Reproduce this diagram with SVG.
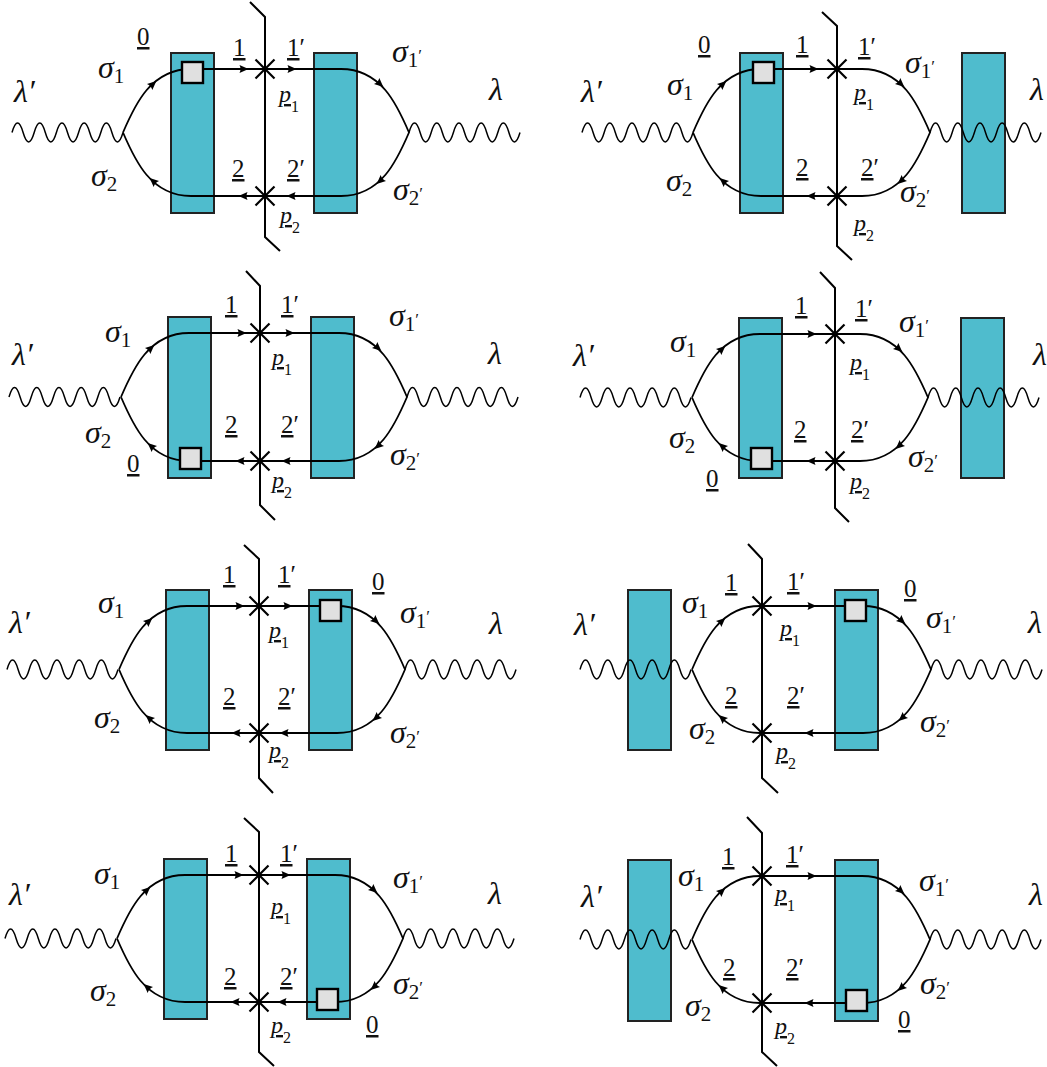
<svg xmlns="http://www.w3.org/2000/svg" width="1047" height="1067" viewBox="0 0 1047 1067">
<style>
.bg{fill:#fff}
.blob rect{fill:#4fbccd;stroke:#222;stroke-width:2}
.sq rect{fill:#e0e0e0;stroke:#000;stroke-width:2.4}
.ln{fill:none;stroke:#000;stroke-width:1.8}
.cut{fill:none;stroke:#000;stroke-width:2}
.x{fill:none;stroke:#000;stroke-width:2.2}
.w{fill:none;stroke:#000;stroke-width:1.5}
text{font-family:"Liberation Serif","Times New Roman",serif;fill:#111}
.m{font-style:italic;font-size:32px}
.s{font-style:normal;font-size:21px}
.t{font-style:normal;font-size:17px}
.d{font-size:25px}
.u{text-decoration:underline;text-decoration-skip-ink:none;text-underline-offset:3px;text-decoration-thickness:1px}
.p{font-style:italic;font-size:24px}
.ps{font-style:normal;font-size:16px}
</style>
<defs>
<path id="wave" class="w" d="M0,0c3.7,-12.6 7.4,-12.6 11.1,0s7.4,12.6 11.1,0s7.4,-12.6 11.1,0s7.4,12.6 11.1,0s7.4,-12.6 11.1,0s7.4,12.6 11.1,0s7.4,-12.6 11.1,0s7.4,12.6 11.1,0s7.4,-12.6 11.1,0s7.4,12.6 11.1,0"/>
<path id="ah" d="M4.5,0L-4.5,-4Q-2.5,0 -4.5,4Z" fill="#000"/>
<path id="cross" class="x" d="M-9.5,-9.5L9.5,9.5M-9.5,9.5L9.5,-9.5"/>
</defs>
<rect class="bg" width="1047" height="1067"/>

<g id="blobs" class="blob">
<g id="p1-blob-a"><rect x="171" y="53" width="43" height="160"/></g>
<g id="p1-blob-b"><rect x="314" y="53" width="43" height="160"/></g>
<g id="p2-blob-a"><rect x="740" y="53" width="43" height="160"/></g>
<g id="p2-blob-b"><rect x="962" y="53" width="43" height="160"/></g>
<g id="p3-blob-a"><rect x="168" y="317" width="43" height="161"/></g>
<g id="p3-blob-b"><rect x="311" y="317" width="43" height="161"/></g>
<g id="p4-blob-a"><rect x="739" y="318" width="43" height="160"/></g>
<g id="p4-blob-b"><rect x="961" y="318" width="43" height="160"/></g>
<g id="p5-blob-a"><rect x="166" y="590" width="43" height="160"/></g>
<g id="p5-blob-b"><rect x="309" y="590" width="43" height="160"/></g>
<g id="p6-blob-a"><rect x="628" y="590" width="43" height="160"/></g>
<g id="p6-blob-b"><rect x="835" y="590" width="43" height="160"/></g>
<g id="p7-blob-a"><rect x="164" y="859" width="43" height="160"/></g>
<g id="p7-blob-b"><rect x="307" y="859" width="43" height="160"/></g>
<g id="p8-blob-a"><rect x="628" y="860" width="43" height="161"/></g>
<g id="p8-blob-b"><rect x="835" y="860" width="43" height="161"/></g>
</g>

<g id="connectors">
<!-- panel 1 -->
<use href="#wave" x="12" y="132.5"/><use href="#wave" x="409" y="132.5"/>
<path class="ln" d="M123,132.5C135,104.5 151,69 191,69L341,69C381,69 397,104.5 409,132.5C397,160.5 381,196 341,196L191,196C151,196 135,160.5 123,132.5"/>
<path class="cut" d="M250,2L265,17L265,237L280,251"/>
<use href="#cross" x="265" y="69"/><use href="#cross" x="265" y="196"/>
<use href="#ah" transform="translate(153,84) rotate(-42)"/><use href="#ah" transform="translate(244,69)"/><use href="#ah" transform="translate(292,69)"/><use href="#ah" transform="translate(380,84) rotate(42)"/><use href="#ah" transform="translate(380,181) rotate(138)"/><use href="#ah" transform="translate(291,196) rotate(180)"/><use href="#ah" transform="translate(243,196) rotate(180)"/><use href="#ah" transform="translate(153,181) rotate(-138)"/>
<!-- panel 2 -->
<use href="#wave" x="582" y="132.5"/><use href="#wave" x="930" y="132.5"/>
<path class="ln" d="M693,132.5C705,104.5 721,69 761,69L862,69C902,69 918,104.5 930,132.5C918,160.5 902,196 862,196L761,196C721,196 705,160.5 693,132.5"/>
<path class="cut" d="M822,12L837,26L837,246L852,260"/>
<use href="#cross" x="837" y="69"/><use href="#cross" x="837" y="196"/>
<use href="#ah" transform="translate(723,84) rotate(-42)"/><use href="#ah" transform="translate(814,69)"/><use href="#ah" transform="translate(901,84) rotate(42)"/><use href="#ah" transform="translate(901,181) rotate(138)"/><use href="#ah" transform="translate(811,196) rotate(180)"/><use href="#ah" transform="translate(723,181) rotate(-138)"/>
<!-- panel 3 -->
<use href="#wave" x="9" y="397"/><use href="#wave" x="407" y="397"/>
<path class="ln" d="M121,397C133,369 149,333 189,333L339,333C379,333 395,369 407,397C395,425 379,461 339,461L189,461C149,461 133,425 121,397"/>
<path class="cut" d="M246,271L260,286L260,505L275,520"/>
<use href="#cross" x="260" y="333"/><use href="#cross" x="260" y="461"/>
<use href="#ah" transform="translate(151,348) rotate(-42)"/><use href="#ah" transform="translate(242,333)"/><use href="#ah" transform="translate(290,333)"/><use href="#ah" transform="translate(378,348) rotate(42)"/><use href="#ah" transform="translate(378,446) rotate(138)"/><use href="#ah" transform="translate(286,461) rotate(180)"/><use href="#ah" transform="translate(240,461) rotate(180)"/><use href="#ah" transform="translate(151,446) rotate(-138)"/>
<!-- panel 4 -->
<use href="#wave" x="580" y="397.5"/><use href="#wave" x="928" y="397.5"/>
<path class="ln" d="M692,397.5C704,369.5 720,334 760,334L860,334C900,334 916,369.5 928,397.5C916,425.5 900,461 860,461L760,461C720,461 704,425.5 692,397.5"/>
<path class="cut" d="M820,272L835,288L835,508L849,522"/>
<use href="#cross" x="835" y="334"/><use href="#cross" x="835" y="461"/>
<use href="#ah" transform="translate(722,349) rotate(-42)"/><use href="#ah" transform="translate(812,334)"/><use href="#ah" transform="translate(899,349) rotate(42)"/><use href="#ah" transform="translate(899,446) rotate(138)"/><use href="#ah" transform="translate(811,461) rotate(180)"/><use href="#ah" transform="translate(722,446) rotate(-138)"/>
<!-- panel 5 -->
<use href="#wave" x="7" y="669.5"/><use href="#wave" x="405" y="669.5"/>
<path class="ln" d="M119,669.5C131,641.5 147,606 187,606L337,606C377,606 393,641.5 405,669.5C393,697.5 377,733 337,733L187,733C147,733 131,697.5 119,669.5"/>
<path class="cut" d="M244,545L259,559L259,778L273,793"/>
<use href="#cross" x="259" y="606"/><use href="#cross" x="259" y="733"/>
<use href="#ah" transform="translate(149,621) rotate(-42)"/><use href="#ah" transform="translate(240,606)"/><use href="#ah" transform="translate(288,606)"/><use href="#ah" transform="translate(376,621) rotate(42)"/><use href="#ah" transform="translate(376,718) rotate(138)"/><use href="#ah" transform="translate(284,733) rotate(180)"/><use href="#ah" transform="translate(236,733) rotate(180)"/><use href="#ah" transform="translate(149,718) rotate(-138)"/>
<!-- panel 6 -->
<use href="#wave" x="580" y="669.5"/><use href="#wave" x="931" y="669.5"/>
<path class="ln" d="M692,669.5C704,641.5 720,606 760,606L863,606C903,606 919,641.5 931,669.5C919,697.5 903,733 863,733L760,733C720,733 704,697.5 692,669.5"/>
<path class="cut" d="M748,544L762,559L762,778L778,793"/>
<use href="#cross" x="762" y="606"/><use href="#cross" x="762" y="733"/>
<use href="#ah" transform="translate(722,621) rotate(-42)"/><use href="#ah" transform="translate(812,606)"/><use href="#ah" transform="translate(902,621) rotate(42)"/><use href="#ah" transform="translate(902,718) rotate(138)"/><use href="#ah" transform="translate(809,733) rotate(180)"/><use href="#ah" transform="translate(722,718) rotate(-138)"/>
<!-- panel 7 -->
<use href="#wave" x="5" y="938.5"/><use href="#wave" x="403" y="938.5"/>
<path class="ln" d="M117,938.5C129,910.5 145,875 185,875L335,875C375,875 391,910.5 403,938.5C391,966.5 375,1002 335,1002L185,1002C145,1002 129,966.5 117,938.5"/>
<path class="cut" d="M244,818L259,832L259,1052L274,1066"/>
<use href="#cross" x="259" y="875"/><use href="#cross" x="259" y="1002"/>
<use href="#ah" transform="translate(147,890) rotate(-42)"/><use href="#ah" transform="translate(239,875)"/><use href="#ah" transform="translate(286,875)"/><use href="#ah" transform="translate(374,890) rotate(42)"/><use href="#ah" transform="translate(374,987) rotate(138)"/><use href="#ah" transform="translate(282,1002) rotate(180)"/><use href="#ah" transform="translate(235,1002) rotate(180)"/><use href="#ah" transform="translate(147,987) rotate(-138)"/>
<!-- panel 8 -->
<use href="#wave" x="580" y="939.5"/><use href="#wave" x="930" y="939.5"/>
<path class="ln" d="M692,939.5C704,911.5 720,876 760,876L862,876C902,876 918,911.5 930,939.5C918,967.5 902,1003 862,1003L760,1003C720,1003 704,967.5 692,939.5"/>
<path class="cut" d="M747,817L762,833L762,1052L777,1066"/>
<use href="#cross" x="762" y="876"/><use href="#cross" x="762" y="1003"/>
<use href="#ah" transform="translate(722,891) rotate(-42)"/><use href="#ah" transform="translate(812,876)"/><use href="#ah" transform="translate(901,891) rotate(42)"/><use href="#ah" transform="translate(901,988) rotate(138)"/><use href="#ah" transform="translate(809,1003) rotate(180)"/><use href="#ah" transform="translate(722,988) rotate(-138)"/>
</g>

<g id="insertions" class="sq">
<g id="p1-insert"><rect x="182" y="62" width="21" height="21"/></g>
<g id="p2-insert"><rect x="753" y="62" width="21" height="21"/></g>
<g id="p3-insert"><rect x="180" y="448" width="21" height="21"/></g>
<g id="p4-insert"><rect x="751" y="448" width="21" height="21"/></g>
<g id="p5-insert"><rect x="320" y="600" width="21" height="21"/></g>
<g id="p6-insert"><rect x="845" y="600" width="21" height="21"/></g>
<g id="p7-insert"><rect x="317" y="989" width="21" height="21"/></g>
<g id="p8-insert"><rect x="846" y="990" width="21" height="21"/></g>
</g>

<g id="labels">
<g id="p1-labels">
<text class="m" x="14" y="102">λ′</text>
<text class="m" x="98" y="78">σ<tspan class="s" dy="5">1</tspan></text>
<text class="d" x="137" y="45"><tspan class="u">0</tspan></text>
<text class="d" x="233" y="56"><tspan class="u">1</tspan></text>
<text class="d" x="287" y="56"><tspan class="u">1</tspan>′</text>
<text class="p" x="279" y="102"><tspan class="u">p</tspan><tspan class="ps" dy="10">1</tspan></text>
<text class="m" x="392" y="62">σ<tspan class="s" dy="5">1</tspan><tspan class="t" dy="-6">′</tspan></text>
<text class="m" x="489" y="100">λ</text>
<text class="m" x="91" y="186">σ<tspan class="s" dy="5">2</tspan></text>
<text class="d" x="232" y="177"><tspan class="u">2</tspan></text>
<text class="d" x="287" y="177"><tspan class="u">2</tspan>′</text>
<text class="p" x="280" y="223"><tspan class="u">p</tspan><tspan class="ps" dy="10">2</tspan></text>
<text class="m" x="393" y="200">σ<tspan class="s" dy="5">2</tspan><tspan class="t" dy="-6">′</tspan></text>
</g>
<g id="p2-labels">
<text class="m" x="581" y="102">λ′</text>
<text class="m" x="667" y="95">σ<tspan class="s" dy="5">1</tspan></text>
<text class="d" x="698" y="53"><tspan class="u">0</tspan></text>
<text class="d" x="796" y="53"><tspan class="u">1</tspan></text>
<text class="d" x="858" y="55"><tspan class="u">1</tspan>′</text>
<text class="p" x="854" y="100"><tspan class="u">p</tspan><tspan class="ps" dy="10">1</tspan></text>
<text class="m" x="905" y="73">σ<tspan class="s" dy="5">1</tspan><tspan class="t" dy="-6">′</tspan></text>
<text class="m" x="1030" y="100">λ</text>
<text class="m" x="666" y="191">σ<tspan class="s" dy="5">2</tspan></text>
<text class="d" x="796" y="176"><tspan class="u">2</tspan></text>
<text class="d" x="861" y="176"><tspan class="u">2</tspan>′</text>
<text class="p" x="854" y="231"><tspan class="u">p</tspan><tspan class="ps" dy="10">2</tspan></text>
<text class="m" x="900" y="202">σ<tspan class="s" dy="5">2</tspan><tspan class="t" dy="-6">′</tspan></text>
</g>
<g id="p3-labels">
<text class="m" x="12" y="365">λ′</text>
<text class="m" x="105" y="342">σ<tspan class="s" dy="5">1</tspan></text>
<text class="d" x="225" y="313"><tspan class="u">1</tspan></text>
<text class="d" x="281" y="313"><tspan class="u">1</tspan>′</text>
<text class="p" x="272" y="365"><tspan class="u">p</tspan><tspan class="ps" dy="10">1</tspan></text>
<text class="m" x="389" y="326">σ<tspan class="s" dy="5">1</tspan><tspan class="t" dy="-6">′</tspan></text>
<text class="m" x="488" y="364">λ</text>
<text class="m" x="85" y="443">σ<tspan class="s" dy="5">2</tspan></text>
<text class="d" x="225" y="433"><tspan class="u">2</tspan></text>
<text class="d" x="281" y="433"><tspan class="u">2</tspan>′</text>
<text class="d" x="127" y="472"><tspan class="u">0</tspan></text>
<text class="p" x="272" y="488"><tspan class="u">p</tspan><tspan class="ps" dy="10">2</tspan></text>
<text class="m" x="390" y="465">σ<tspan class="s" dy="5">2</tspan><tspan class="t" dy="-6">′</tspan></text>
</g>
<g id="p4-labels">
<text class="m" x="573" y="366">λ′</text>
<text class="m" x="670" y="352">σ<tspan class="s" dy="5">1</tspan></text>
<text class="d" x="795" y="314"><tspan class="u">1</tspan></text>
<text class="d" x="855" y="317"><tspan class="u">1</tspan>′</text>
<text class="p" x="850" y="370"><tspan class="u">p</tspan><tspan class="ps" dy="10">1</tspan></text>
<text class="m" x="899" y="332">σ<tspan class="s" dy="5">1</tspan><tspan class="t" dy="-6">′</tspan></text>
<text class="m" x="1033" y="365">λ</text>
<text class="m" x="669" y="448">σ<tspan class="s" dy="5">2</tspan></text>
<text class="d" x="794" y="438"><tspan class="u">2</tspan></text>
<text class="d" x="851" y="438"><tspan class="u">2</tspan>′</text>
<text class="d" x="706" y="487"><tspan class="u">0</tspan></text>
<text class="p" x="850" y="489"><tspan class="u">p</tspan><tspan class="ps" dy="10">2</tspan></text>
<text class="m" x="908" y="467">σ<tspan class="s" dy="5">2</tspan><tspan class="t" dy="-6">′</tspan></text>
</g>
<g id="p5-labels">
<text class="m" x="9" y="633">λ′</text>
<text class="m" x="98" y="613">σ<tspan class="s" dy="5">1</tspan></text>
<text class="d" x="223" y="583"><tspan class="u">1</tspan></text>
<text class="d" x="278" y="583"><tspan class="u">1</tspan>′</text>
<text class="d" x="372" y="590"><tspan class="u">0</tspan></text>
<text class="p" x="269" y="638"><tspan class="u">p</tspan><tspan class="ps" dy="10">1</tspan></text>
<text class="m" x="400" y="623">σ<tspan class="s" dy="5">1</tspan><tspan class="t" dy="-6">′</tspan></text>
<text class="m" x="489" y="634">λ</text>
<text class="m" x="94" y="728">σ<tspan class="s" dy="5">2</tspan></text>
<text class="d" x="223" y="705"><tspan class="u">2</tspan></text>
<text class="d" x="278" y="705"><tspan class="u">2</tspan>′</text>
<text class="p" x="269" y="758"><tspan class="u">p</tspan><tspan class="ps" dy="10">2</tspan></text>
<text class="m" x="390" y="743">σ<tspan class="s" dy="5">2</tspan><tspan class="t" dy="-6">′</tspan></text>
</g>
<g id="p6-labels">
<text class="m" x="574" y="635">λ′</text>
<text class="m" x="682" y="613">σ<tspan class="s" dy="5">1</tspan></text>
<text class="d" x="725" y="591"><tspan class="u">1</tspan></text>
<text class="d" x="787" y="590"><tspan class="u">1</tspan>′</text>
<text class="d" x="904" y="597"><tspan class="u">0</tspan></text>
<text class="p" x="780" y="636"><tspan class="u">p</tspan><tspan class="ps" dy="10">1</tspan></text>
<text class="m" x="926" y="628">σ<tspan class="s" dy="5">1</tspan><tspan class="t" dy="-6">′</tspan></text>
<text class="m" x="1028" y="633">λ</text>
<text class="m" x="689" y="739">σ<tspan class="s" dy="5">2</tspan></text>
<text class="d" x="725" y="704"><tspan class="u">2</tspan></text>
<text class="d" x="787" y="704"><tspan class="u">2</tspan>′</text>
<text class="p" x="776" y="759"><tspan class="u">p</tspan><tspan class="ps" dy="10">2</tspan></text>
<text class="m" x="920" y="732">σ<tspan class="s" dy="5">2</tspan><tspan class="t" dy="-6">′</tspan></text>
</g>
<g id="p7-labels">
<text class="m" x="9" y="905">λ′</text>
<text class="m" x="94" y="884">σ<tspan class="s" dy="5">1</tspan></text>
<text class="d" x="225" y="862"><tspan class="u">1</tspan></text>
<text class="d" x="280" y="862"><tspan class="u">1</tspan>′</text>
<text class="p" x="271" y="914"><tspan class="u">p</tspan><tspan class="ps" dy="10">1</tspan></text>
<text class="m" x="393" y="888">σ<tspan class="s" dy="5">1</tspan><tspan class="t" dy="-6">′</tspan></text>
<text class="m" x="488" y="904">λ</text>
<text class="m" x="90" y="1001">σ<tspan class="s" dy="5">2</tspan></text>
<text class="d" x="224" y="985"><tspan class="u">2</tspan></text>
<text class="d" x="280" y="985"><tspan class="u">2</tspan>′</text>
<text class="p" x="271" y="1033"><tspan class="u">p</tspan><tspan class="ps" dy="10">2</tspan></text>
<text class="m" x="393" y="994">σ<tspan class="s" dy="5">2</tspan><tspan class="t" dy="-6">′</tspan></text>
<text class="d" x="366" y="1033"><tspan class="u">0</tspan></text>
</g>
<g id="p8-labels">
<text class="m" x="581" y="907">λ′</text>
<text class="m" x="678" y="886">σ<tspan class="s" dy="5">1</tspan></text>
<text class="d" x="722" y="865"><tspan class="u">1</tspan></text>
<text class="d" x="786" y="863"><tspan class="u">1</tspan>′</text>
<text class="p" x="775" y="901"><tspan class="u">p</tspan><tspan class="ps" dy="10">1</tspan></text>
<text class="m" x="919" y="891">σ<tspan class="s" dy="5">1</tspan><tspan class="t" dy="-6">′</tspan></text>
<text class="m" x="1029" y="905">λ</text>
<text class="m" x="685" y="1016">σ<tspan class="s" dy="5">2</tspan></text>
<text class="d" x="723" y="976"><tspan class="u">2</tspan></text>
<text class="d" x="786" y="976"><tspan class="u">2</tspan>′</text>
<text class="p" x="775" y="1034"><tspan class="u">p</tspan><tspan class="ps" dy="10">2</tspan></text>
<text class="m" x="920" y="994">σ<tspan class="s" dy="5">2</tspan><tspan class="t" dy="-6">′</tspan></text>
<text class="d" x="898" y="1028"><tspan class="u">0</tspan></text>
</g>
</g>
</svg>
